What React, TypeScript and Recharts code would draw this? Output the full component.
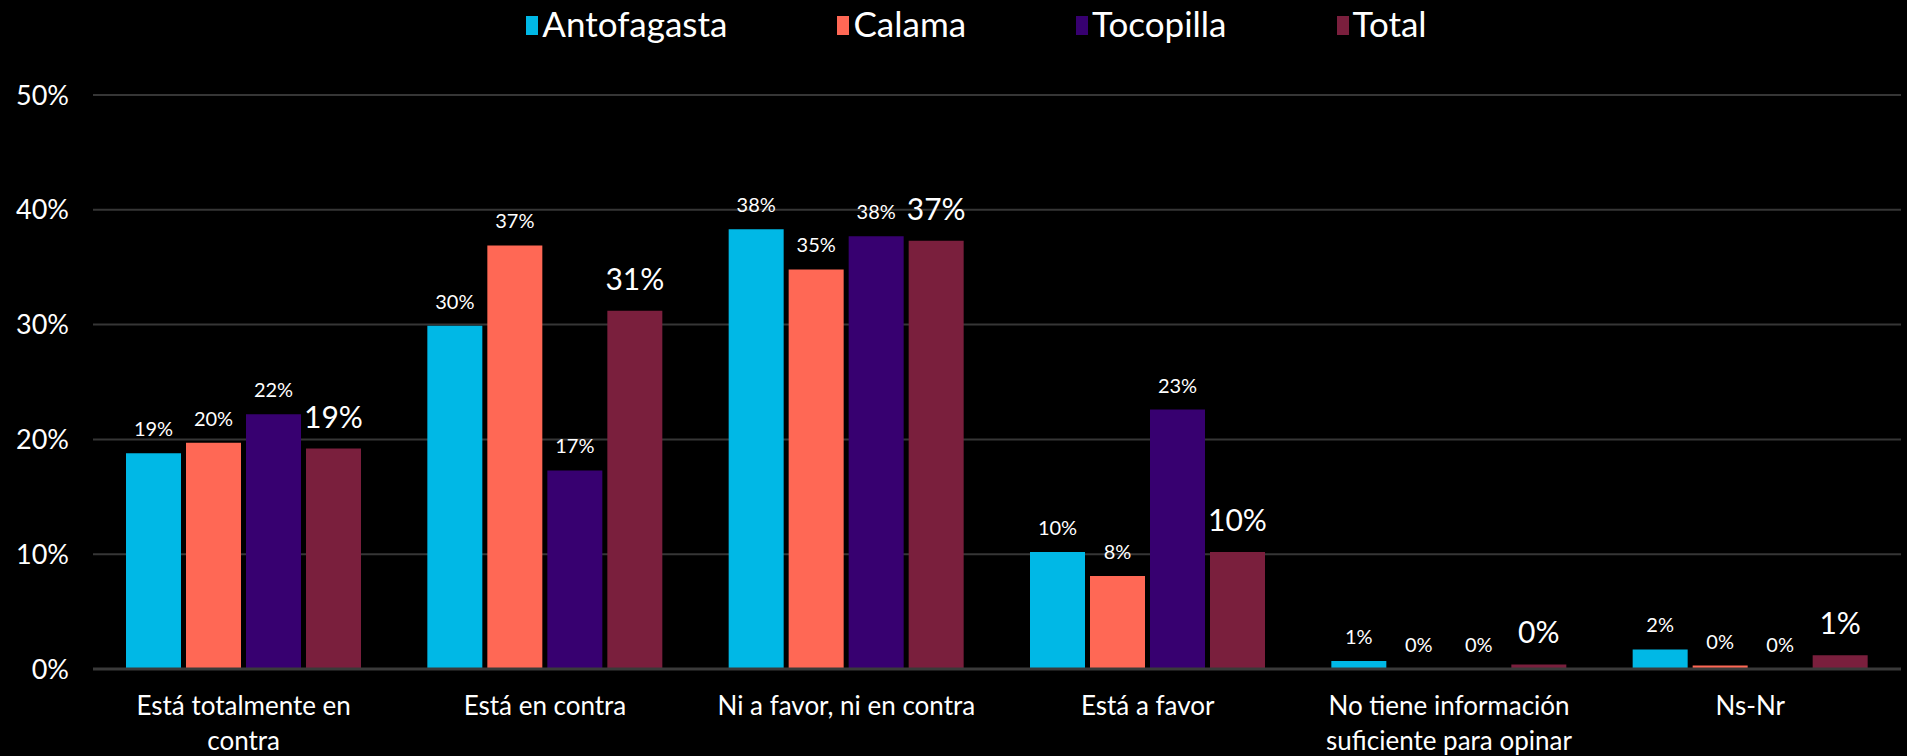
import React from 'react';
import { BarChart, Bar, XAxis, YAxis, CartesianGrid, LabelList } from 'recharts';

const categoryLines = [
  ['Está totalmente en', 'contra'],
  ['Está en contra'],
  ['Ni a favor, ni en contra'],
  ['Está a favor'],
  ['No tiene información', 'suficiente para opinar'],
  ['Ns-Nr'],
];
const categories = categoryLines.map((l) => l.join(' '));
const antofagasta = [18.8, 29.9, 38.3, 10.2, 0.7, 1.7];
const calama = [19.7, 36.9, 34.8, 8.1, 0, 0.3];
const tocopilla = [22.2, 17.3, 37.7, 22.6, 0, 0];
const total = [19.2, 31.2, 37.3, 10.2, 0.4, 1.2];
const yTicks = [0, 10, 20, 30, 40, 50];

const seriesNames = ['Antofagasta', 'Calama', 'Tocopilla', 'Total'];
const seriesKeys = ['antofagasta', 'calama', 'tocopilla', 'total'];
const seriesColors = ['#00B8E6', '#FF6855', '#370070', '#7A1F3D'];

const data = categories.map((c, i) => ({
  category: c,
  antofagasta: antofagasta[i],
  calama: calama[i],
  tocopilla: tocopilla[i],
  total: total[i],
}));

const FONT = 'Lato, "Open Sans", sans-serif';

const CategoryTick = (props: any) => {
  const { x, y, payload } = props;
  const idx = categories.indexOf(payload.value);
  const lines = idx >= 0 ? categoryLines[idx] : [String(payload.value)];
  return (
    <text
      x={x}
      y={y + 46}
      textAnchor="middle"
      fill="#FFFFFF"
      fontSize={26}
      fontFamily={FONT}
    >
      {lines.map((l, i) => (
        <tspan key={i} x={x} dy={i === 0 ? 0 : 35}>
          {l}
        </tspan>
      ))}
    </text>
  );
};

const fmt = (v: any) => `${Math.round(Number(v))}%`;

export default function App() {
  return (
    <div
      style={{
        position: 'fixed',
        left: 0,
        top: 0,
        width: 1907,
        height: 756,
        background: '#000000',
        overflow: 'hidden',
        fontFamily: FONT,
      }}
    >
      <div
        style={{
          position: 'absolute',
          top: 3,
          left: 0,
          width: 1907,
          paddingLeft: 46,
          boxSizing: 'border-box',
          display: 'flex',
          justifyContent: 'center',
          alignItems: 'center',
          height: 40,
        }}
      >
        {seriesNames.map((n, i) => (
          <div
            key={n}
            style={{
              display: 'flex',
              alignItems: 'center',
              marginRight: i < seriesNames.length - 1 ? 110 : 0,
            }}
          >
            <div
              style={{
                width: 12,
                height: 19,
                background: seriesColors[i],
                marginRight: 4,
                marginTop: 4,
              }}
            />
            <span style={{ color: '#FFFFFF', fontSize: 35, lineHeight: '40px' }}>{n}</span>
          </div>
        ))}
      </div>
      <BarChart
        width={1907}
        height={756}
        data={data}
        margin={{ top: 95, right: 6, left: 0, bottom: 7 }}
        barSize={55}
        barGap={5}
      >
        <CartesianGrid vertical={false} stroke="#363636" strokeWidth={2} />
        <XAxis
          dataKey="category"
          interval={0}
          height={80}
          tickLine={false}
          tickSize={0}
          tickMargin={0}
          axisLine={{ stroke: '#3A3A3A', strokeWidth: 3 }}
          tick={<CategoryTick />}
        />
        <YAxis
          width={93}
          domain={[0, 50]}
          ticks={yTicks}
          tickFormatter={(v: number) => `${v}%`}
          axisLine={false}
          tickLine={false}
          tickSize={0}
          tickMargin={24}
          tick={{ fill: '#FFFFFF', fontSize: 27, fontFamily: FONT }}
        />
        {seriesKeys.map((k, i) => (
          <Bar
            key={k}
            dataKey={k}
            name={seriesNames[i]}
            fill={seriesColors[i]}
            minPointSize={0.01}
            isAnimationActive={false}
          >
            <LabelList
              dataKey={k}
              position="top"
              offset={k === 'total' ? 21 : 17}
              formatter={fmt}
              fill="#FFFFFF"
              fontSize={k === 'total' ? 30 : 20}
              fontFamily={FONT}
            />
          </Bar>
        ))}
      </BarChart>
    </div>
  );
}
